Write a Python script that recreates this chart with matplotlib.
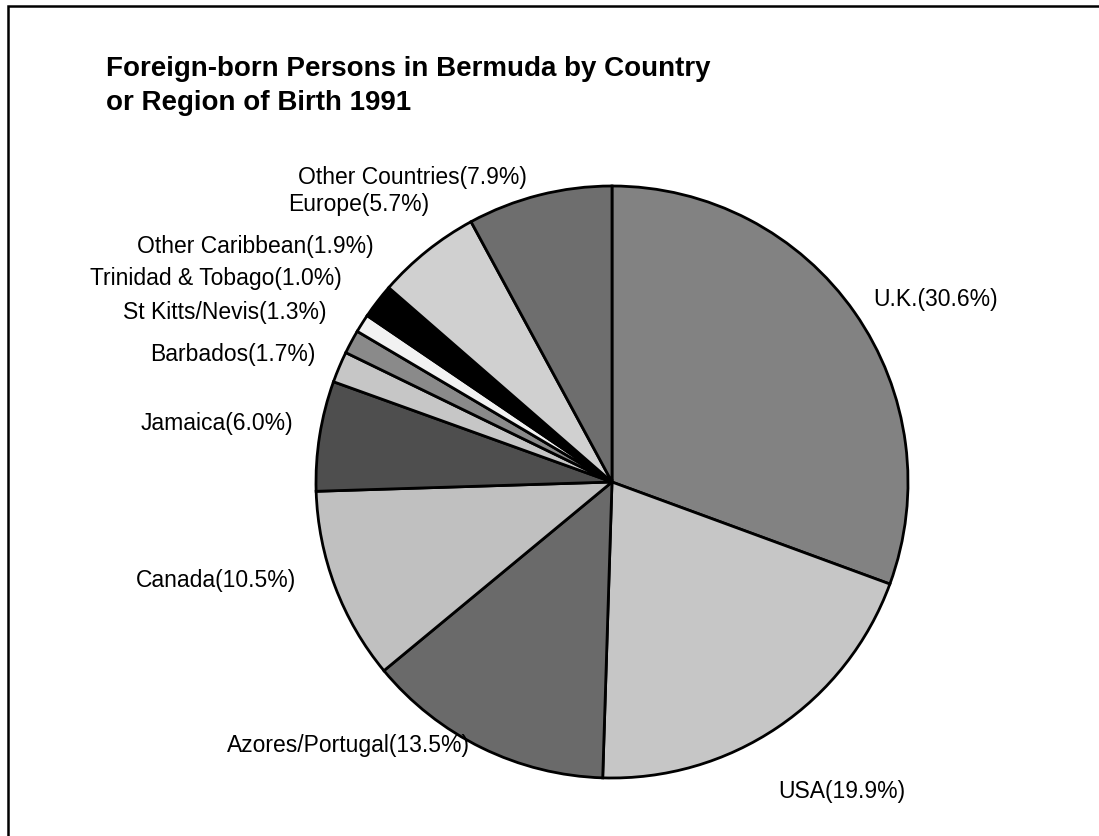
import matplotlib
matplotlib.use("Agg")
import matplotlib.pyplot as plt
from matplotlib.patches import Rectangle

# data, clockwise from 12 o'clock
countries = ["U.K.", "USA", "Azores/Portugal", "Canada", "Jamaica", "Barbados",
             "St Kitts/Nevis", "Trinidad & Tobago", "Other Caribbean", "Europe",
             "Other Countries"]
shares = [30.6, 19.9, 13.5, 10.5, 6.0, 1.7, 1.3, 1.0, 1.9, 5.7, 7.9]

# styling
greys = ["#828282", "#c6c6c6", "#6a6a6a", "#c0c0c0", "#4e4e4e", "#c6c6c6",
         "#8a8a8a", "#f2f2f2", "#000000", "#d0d0d0", "#6e6e6e"]
# label anchors in pie-radius units (pie center = 0,0)
label_pos = [(0.884, 0.615), (0.561, -1.044), (-0.480, -0.889), (-1.068, -0.334),
             (-1.078, 0.199), (-1.003, 0.432), (-0.963, 0.574), (-0.912, 0.689),
             (-0.807, 0.794), (-0.618, 0.936), (-0.287, 1.030)]
label_ha = ["left", "left", "right", "right", "right", "right", "right",
            "right", "right", "right", "right"]

plt.rcParams['font.family'] = ['Liberation Sans', 'DejaVu Sans']

W, H = 1099, 836
cx, cy, R = 612, 482, 296   # pie center and radius in pixels

fig = plt.figure(figsize=(W / 100, H / 100), dpi=100)
ax = fig.add_axes([0, 0, 1, 1])

wedges, _ = ax.pie(shares, colors=greys, startangle=90, counterclock=False,
                   radius=1.0, center=(0, 0),
                   wedgeprops=dict(edgecolor="black", linewidth=2.0))

for name, val, (x, y), ha in zip(countries, shares, label_pos, label_ha):
    ax.text(x, y, f"{name}({val:.1f}%)", ha=ha, va="center", fontsize=16.5)

ax.set_xlim(-cx / R, (W - cx) / R)
ax.set_ylim((cy - H) / R, cy / R)
ax.set_aspect("equal")
ax.axis("off")

fig.text(106 / W, 1 - 56 / H,
         "Foreign-born Persons in Bermuda by Country\nor Region of Birth 1991",
         ha="left", va="top", fontsize=20, fontweight="bold", linespacing=1.4)

# frame around the chart (cut off at right and bottom)
fig.patches.append(Rectangle((8 / W, -0.1), 1.2, 1 - 6 / H + 0.1,
                             transform=fig.transFigure, fill=False,
                             edgecolor="black", linewidth=1.8))

fig.savefig("out.png", dpi=100)
